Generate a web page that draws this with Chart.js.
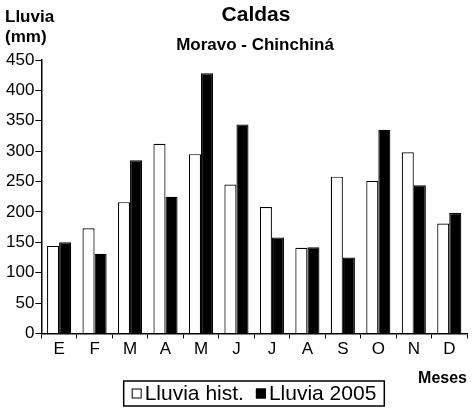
<!DOCTYPE html>
<html>
<head>
<meta charset="utf-8">
<script src="https://cdn.jsdelivr.net/npm/chart.js@4"></script>
<style>
html,body{margin:0;padding:0;background:#fff;}
#wrap{width:472px;height:409px;}
</style>
</head>
<body>
<div id="wrap"><canvas id="c" width="472" height="409"></canvas></div>
<script>
const months = ["E","F","M","A","M","J","J","A","S","O","N","D"];
const lluviaHist = [144,173,216,312,295,245,208,141,258,251,298,181];
const lluvia2005 = [150,131,285,225,428,344,158,142,125,335,244,198];
const yTicks = [0,50,100,150,200,250,300,350,400,450];
const seriesNames = ["Lluvia hist.","Lluvia 2005"];
const titleText = "Caldas";
const subtitleText = "Moravo - Chinchiná";
const yTitle = ["Lluvia","(mm)"];
const xTitle = "Meses";

const FONT = "'Liberation Sans', Arial, sans-serif";

const textPlugin = {
  id: 'texts',
  afterDraw(chart) {
    const ctx = chart.ctx;
    const ds = chart.data.datasets;
    ctx.save();
    ctx.fillStyle = '#000';
    ctx.textBaseline = 'middle';
    ctx.textAlign = 'center';
    ctx.font = "bold 21px " + FONT;
    ctx.fillText(titleText, 256, 15);
    ctx.font = "bold 17px " + FONT;
    ctx.fillText(subtitleText, 255, 45);
    ctx.textAlign = 'left';
    ctx.font = "bold 17px " + FONT;
    ctx.fillText(yTitle[0], 5, 17);
    ctx.fillText(yTitle[1], 5, 37);

    // legend (custom, bordered)
    ctx.font = "21px " + FONT;
    const sq = 10, gapIn = 3, gapBetween = 12, padX = 8;
    const widths = ds.map(d => ctx.measureText(d.label).width);
    const total = padX*2 + ds.length*(sq + gapIn) + widths.reduce((a,b)=>a+b,0) + gapBetween*(ds.length-1);
    const cx = 254, yTop = 381, yBot = 406, cy = (yTop + yBot)/2;
    let x = cx - total/2;
    ctx.strokeStyle = '#000';
    ctx.lineWidth = 1.5;
    ctx.strokeRect(x, yTop, total, yBot - yTop);
    x += padX;
    ds.forEach((d, i) => {
      ctx.fillStyle = d.backgroundColor;
      ctx.fillRect(x, cy - sq/2, sq, sq);
      ctx.lineWidth = 1;
      ctx.strokeStyle = '#000';
      ctx.strokeRect(x + 0.5, cy - sq/2 + 0.5, sq - 1, sq - 1);
      x += sq + gapIn;
      ctx.fillStyle = '#000';
      ctx.fillText(d.label, x, cy + 1);
      x += widths[i] + gapBetween;
    });
    ctx.restore();
  }
};

new Chart(document.getElementById('c'), {
  type: 'bar',
  data: {
    labels: months,
    datasets: [
      { label: seriesNames[0], data: lluviaHist, backgroundColor: '#fff', borderColor: '#000', borderWidth: 1.2 },
      { label: seriesNames[1], data: lluvia2005, backgroundColor: '#000', borderColor: '#000', borderWidth: 1.2 }
    ]
  },
  options: {
    responsive: false,
    animation: false,
    devicePixelRatio: 1,
    layout: { padding: { top: 60, left: 5, right: 5, bottom: 21 } },
    datasets: { bar: { categoryPercentage: 0.68, barPercentage: 1.0 } },
    plugins: {
      title: { display: false },
      tooltip: { enabled: false },
      legend: { display: false }
    },
    scales: {
      x: {
        grid: { display: true, drawOnChartArea: false, offset: true, color: '#000', tickLength: 5, tickWidth: 1 },
        border: { display: true, color: '#000', width: 1.5 },
        ticks: { color: '#000', font: { family: FONT, size: 17 }, padding: 1, maxRotation: 0 },
        title: { display: true, text: xTitle, align: 'end', color: '#000', font: { family: FONT, size: 16, weight: 'bold' }, padding: { top: 8, bottom: 0 } }
      },
      y: {
        min: 0, max: 450,
        afterBuildTicks(axis) { axis.ticks = yTicks.map(v => ({ value: v })); },
        grid: { display: true, drawOnChartArea: false, color: '#000', tickLength: 6, tickWidth: 1 },
        border: { display: true, color: '#000', width: 1.5 },
        ticks: { color: '#000', font: { family: FONT, size: 17 }, padding: 1 }
      }
    }
  },
  plugins: [textPlugin]
});
</script>
</body>
</html>
